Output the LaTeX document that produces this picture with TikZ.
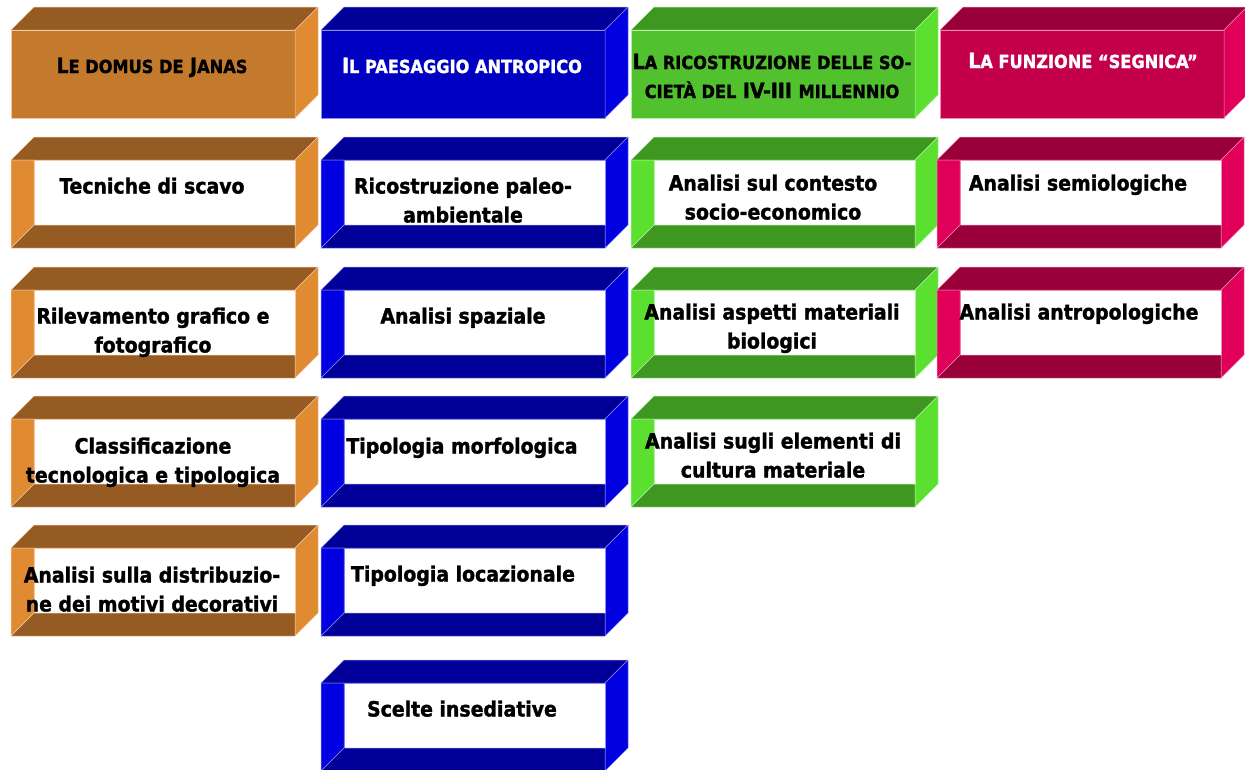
\documentclass[tikz,border=0pt]{standalone}
\usepackage{fontspec}
\setmainfont{DejaVu Sans Condensed}[BoldFont={DejaVu Sans Condensed Bold},BoldFeatures={FakeBold=1.5}]
\usetikzlibrary{positioning}
\definecolor{ordark}{HTML}{965B22}
\definecolor{orfront}{HTML}{C47A2C}
\definecolor{orside}{HTML}{E08A32}
\definecolor{bldark}{HTML}{000099}
\definecolor{blfront}{HTML}{0000C2}
\definecolor{blside}{HTML}{0000E0}
\definecolor{grdark}{HTML}{3E9721}
\definecolor{grfront}{HTML}{52C12E}
\definecolor{grside}{HTML}{5CE030}
\definecolor{mgdark}{HTML}{990039}
\definecolor{mgfront}{HTML}{C4004B}
\definecolor{mgside}{HTML}{E0005A}
\newcommand{\smcp}[1]{{\fontsize{18}{29}\selectfont\MakeUppercase{#1}}}
% solid block: #1 left x, #2 top of front face, #3 colour prefix
\newcommand{\headbox}[3]{%
  \begin{scope}[face/.append style={draw=white!55!#3side}]
  \draw[face,fill=#3dark] (#1,#2) -- ++(23,-23) -- ++(284,0) -- ++(-23,23) -- cycle;
  \draw[face,fill=#3front] (#1,#2) rectangle ++(284,88);
  \draw[face,fill=#3side] (#1+284,#2) -- ++(23,-23) -- ++(0,88) -- ++(-23,23) -- cycle;
  \end{scope}
}
% open block: front face cut away
\newcommand{\tubebox}[3]{%
  \begin{scope}[face/.append style={draw=white!55!#3side}]
  \draw[face,fill=#3dark] (#1,#2) -- ++(23,-23) -- ++(284,0) -- ++(-23,23) -- cycle;
  \draw[face,fill=#3side] (#1+284,#2) -- ++(23,-23) -- ++(0,88) -- ++(-23,23) -- cycle;
  \draw[face,fill=white] (#1+23,#2) rectangle (#1+284,#2+65);
  \draw[face,fill=#3side] (#1,#2) -- ++(23,0) -- ++(0,65) -- ++(-23,23) -- cycle;
  \draw[face,fill=#3dark] (#1,#2+88) -- ++(23,-23) -- ++(261,0) -- ++(0,23) -- cycle;
  \end{scope}
}

\begin{document}
\begin{tikzpicture}[
  x=1pt,y=-1pt,
  face/.style={line width=0.5pt,line join=round},
  every node/.style={font=\bfseries\fontsize{21}{29}\selectfont,inner sep=0pt,align=center,anchor=base},
  light/.style={text=white}
]
\useasboundingbox (0,0) rectangle (1245,769);
% headings
\headbox{11}{30}{or}
\headbox{321}{30}{bl}
\headbox{631}{30}{gr}
\headbox{940}{30}{mg}
% first column
\tubebox{11}{160}{or}
\tubebox{11}{290}{or}
\tubebox{11}{419}{or}
\tubebox{11}{548}{or}
% second column
\tubebox{321}{160}{bl}
\tubebox{321}{290}{bl}
\tubebox{321}{419}{bl}
\tubebox{321}{548}{bl}
\tubebox{321}{683}{bl}
% third column
\tubebox{631}{160}{gr}
\tubebox{631}{290}{gr}
\tubebox{631}{419}{gr}
% fourth column
\tubebox{937}{160}{mg}
\tubebox{937}{290}{mg}
% heading texts (base = last line)
\node (hJanas) at (152,73) {L\smcp{e domus de} J\smcp{anas}};
\node[light] (hPaesaggio) at (462,73) {I\smcp{l paesaggio antropico}};
\node (hSocieta) at (772,98) {L\smcp{a ricostruzione delle so-}\\\smcp{cietà del} IV-III \smcp{millennio}};
\node[light] (hSegnica) at (1083,68) {L\smcp{a funzione “segnica”}};
% box texts
\node (scavo) at (152,193.5) {Tecniche di scavo};
\node (rilievo) at (153,352.5) {Rilevamento grafico e\\fotografico};
\node (classif) at (153,482.5) {Classificazione\\tecnologica e tipologica};
\node (decor) at (152,611.5) {Analisi sulla distribuzio-\\ne dei motivi decorativi};
\node (paleo) at (463,222.5) {Ricostruzione paleo-\\ambientale};
\node (spaziale) at (463,323.5) {Analisi spaziale};
\node (morfo) at (462,453.5) {Tipologia morfologica};
\node (locaz) at (463,581.5) {Tipologia locazionale};
\node (insed) at (462,716.5) {Scelte insediative};
\node (contesto) at (773,219.5) {Analisi sul contesto\\socio-economico};
\node (biologici) at (772,348.5) {Analisi aspetti materiali\\biologici};
\node (cultura) at (773,477.5) {Analisi sugli elementi di\\cultura materiale};
\node (semio) at (1078,190.5) {Analisi semiologiche};
\node (antropo) at (1079,319.5) {Analisi antropologiche};
\end{tikzpicture}
\end{document}
